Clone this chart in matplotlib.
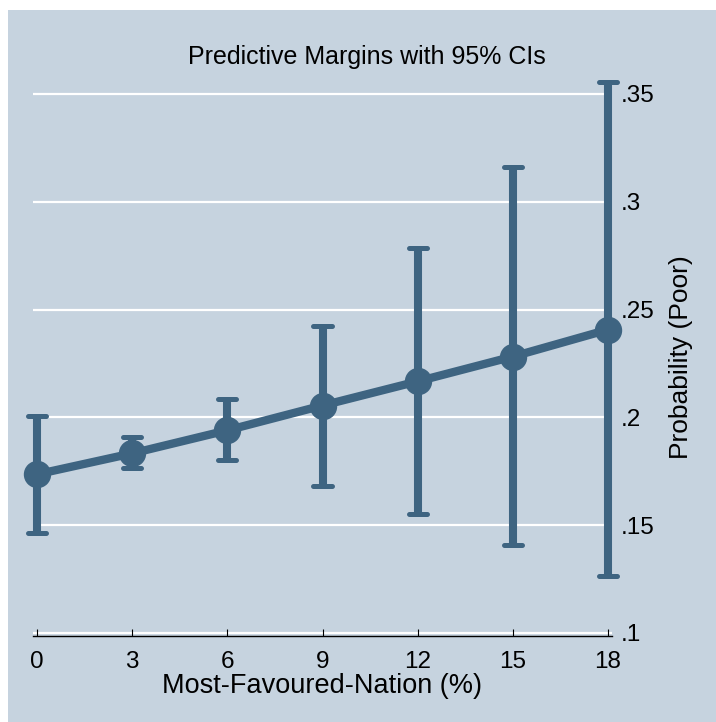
import matplotlib
matplotlib.use("Agg")
import matplotlib.pyplot as plt
from matplotlib.patches import Rectangle
import numpy as np

plt.rcParams["font.family"] = ["Liberation Sans", "DejaVu Sans"]

# predictive margins
mfn = [0, 3, 6, 9, 12, 15, 18]
margin = [0.1736, 0.1833, 0.1940, 0.2055, 0.2167, 0.2282, 0.2407]
ci_low = [0.1463, 0.1764, 0.1800, 0.1680, 0.1550, 0.1410, 0.1264]
ci_high = [0.2005, 0.1907, 0.2083, 0.2426, 0.2787, 0.3160, 0.3556]
yticks = [0.10, 0.15, 0.20, 0.25, 0.30, 0.35]
ytick_labels = [".1", ".15", ".2", ".25", ".3", ".35"]

bg = "#c6d3df"
navy = "#3e6481"

W, H = 716, 722
fig = plt.figure(figsize=(W / 100, H / 100), dpi=100)
fig.patch.set_facecolor("white")
# graph region, leaving a thin white strip top and left
fig.patches.append(Rectangle((8 / W, 0), 1, 1 - 10 / H, transform=fig.transFigure,
                             facecolor=bg, edgecolor="none", zorder=-5))

ax = fig.add_axes([33 / W, (H - 636) / H, 579 / W, 558 / H])
ax.set_zorder(2)
ax.set_facecolor(bg)

ax.set_xlim(-4 / 31.72, 18 + 4 / 31.72)
ax.set_ylim(0.0986, 0.3574)

for yv in yticks:
    ax.axhline(yv, color="white", lw=1.6, zorder=1)

x = np.array(mfn, dtype=float)
ax.vlines(x, ci_low, ci_high, color=navy, lw=5.8, zorder=3, clip_on=False)
half = 9 / 31.72
ax.hlines(ci_low, x - half, x + half, color=navy, lw=3.6, capstyle="round",
          zorder=3, clip_on=False)
ax.hlines(ci_high, x - half, x + half, color=navy, lw=3.6, capstyle="round",
          zorder=3, clip_on=False)
ax.plot(x, margin, color=navy, lw=6, marker="o", markersize=18.7,
        markerfacecolor=navy, markeredgecolor=navy, zorder=4, clip_on=False)

for s in ["left", "right", "top"]:
    ax.spines[s].set_visible(False)
ax.spines["bottom"].set_color("black")
ax.spines["bottom"].set_linewidth(1.0)

ax.set_xticks(mfn)
ax.set_xticklabels([str(v) for v in mfn])
ax.tick_params(axis="x", direction="in", length=5, width=0.8, color="black",
               labelsize=17.5, pad=11)

ax.yaxis.tick_right()
ax.yaxis.set_label_position("right")
ax.set_yticks(yticks)
ax.set_yticklabels(ytick_labels)
ax.tick_params(axis="y", length=0, labelsize=17.5, pad=6)

ax.set_xlabel("Most-Favoured-Nation (%)", fontsize=19.5, labelpad=0)
ax.set_ylabel("Probability (Poor)", fontsize=19, labelpad=11)

fig.text(367 / W, 1 - 57 / H, "Predictive Margins with 95% CIs", fontsize=18,
         ha="center", va="center")

fig.savefig("out.png", dpi=100, facecolor="white")
